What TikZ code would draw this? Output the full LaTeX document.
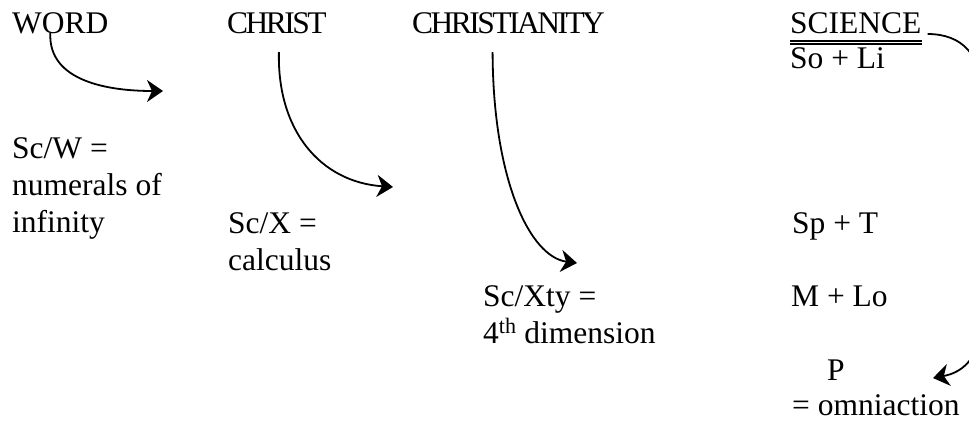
\documentclass[tikz,border=0pt]{standalone}
\usepackage{fontspec}
\setmainfont{Liberation Serif}
\newfontfamily\tightfont{Liberation Serif}[LetterSpace=-8]
\usetikzlibrary{arrows.meta,calc}

\begin{document}
\begin{tikzpicture}[x=1pt, y=-1pt,
    font=\fontsize{31.5pt}{37pt}\selectfont,
    txt/.style={anchor=base west, inner sep=0pt},
    arr/.style={line width=1.8pt, -{Stealth[length=16pt, width=22pt, inset=5pt]}}]
    \useasboundingbox (0,0) rectangle (969,424);
    \clip (0,0) rectangle (969,424);

    % headings
    \node[txt](word) at (12, 33) {WORD};
    \node[txt](christ) at (227, 33) {\tightfont CHRIST};
    \node[txt](cty) at (412, 33) {\tightfont CHRISTIANITY};
    \node[txt](sci) at (790, 33) {SCIENCE};
    \draw[line width=1.4pt] ($(sci.base west)+(0,8)$) -- ($(sci.base east)+(0,8)$);
    \draw[line width=1.4pt] ($(sci.base west)+(0,11)$) -- ($(sci.base east)+(0,11)$);

    % first column
    \node[txt](scw) at (12, 158) {Sc/W =};
    \node[txt](num) at (12, 195) {numerals of};
    \node[txt](inf) at (12, 232) {infinity};

    % second column
    \node[txt](scx) at (228, 233) {Sc/X =};
    \node[txt](calc) at (228, 270) {calculus};

    % third column
    \node[txt](scxty) at (483, 306) {Sc/Xty =};
    \node[txt](dim) at (483, 343) {4\textsuperscript{th} dimension};

    % fourth column
    \node[txt](soli) at (790, 68) {So + Li};
    \node[txt](spt) at (792, 233) {Sp + T};
    \node[txt](mlo) at (791, 306) {M + Lo};
    \node[txt](p) at (827, 380) {P};
    \node[txt](omni) at (792, 415) {= omniaction};

    % arrow tips
    \coordinate(t1) at (163, 91);
    \coordinate(t2) at (393, 187);
    \coordinate(t3) at (577, 263);
    \coordinate(t4) at (933, 378);

    \draw[arr] ($(word.base)+(-10,0)$) .. controls (48, 82) and (110, 91) .. (t1);
    \draw[arr] ($(christ.base)+(2,19)$) .. controls (277, 130) and (320, 182) .. (t2);
    \draw[arr] ($(cty.base)+(-16,19)$) .. controls (493, 180) and (530, 257) .. (t3);
    \draw[arr] ($(sci.base east)+(6,1)$) .. controls (962, 34) and (982, 55) .. (982, 95)
        -- (982, 315) .. controls (982, 355) and (965, 372) .. (t4);
\end{tikzpicture}
\end{document}
